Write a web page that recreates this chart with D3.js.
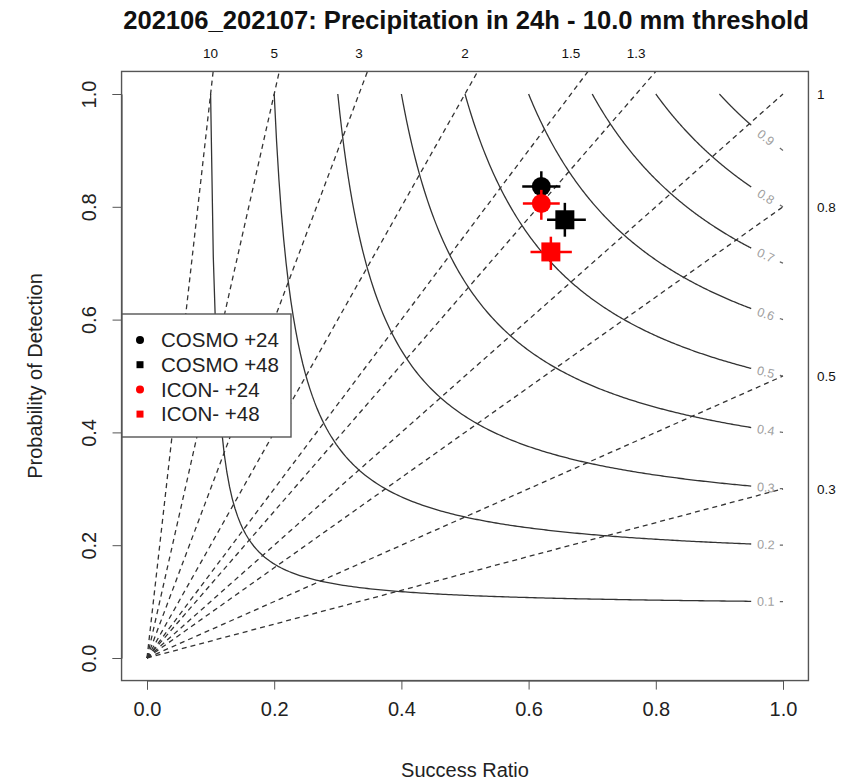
<!DOCTYPE html>
<html>
<head>
<meta charset="utf-8">
<script src="https://cdn.jsdelivr.net/npm/d3@7"></script>
<style>
  body { margin: 0; background: #fff; }
  svg { font-family: "Liberation Sans", Arial, sans-serif; }
</style>
</head>
<body>
<svg id="chart" width="850" height="782"></svg>
<script>
// ---------- data ----------
const titleText = "202106_202107: Precipitation in 24h - 10.0 mm threshold";
const xLabel = "Success Ratio";
const yLabel = "Probability of Detection";
const axisTicks = [0, 0.2, 0.4, 0.6, 0.8, 1.0];
const biasValues = [0.3, 0.5, 0.8, 1, 1.3, 1.5, 2, 3, 5, 10];
const biasLabels = ["0.3", "0.5", "0.8", "1", "1.3", "1.5", "2", "3", "5", "10"];
const csiValues = [0.1, 0.2, 0.3, 0.4, 0.5, 0.6, 0.7, 0.8, 0.9];

const seriesNames = ["COSMO +24", "COSMO +48", "ICON- +24", "ICON- +48"];
const seriesColors = ["#000000", "#000000", "#ff0000", "#ff0000"];
const seriesShapes = ["circle", "square", "circle", "square"];
const srValues  = [0.620, 0.657, 0.620, 0.635];
const srLow     = [0.590, 0.629, 0.591, 0.603];
const srHigh    = [0.650, 0.690, 0.649, 0.668];
const podValues = [0.836, 0.777, 0.806, 0.720];
const podLow    = [0.808, 0.747, 0.777, 0.688];
const podHigh   = [0.863, 0.807, 0.830, 0.747];

// ---------- layout ----------
const svg = d3.select("#chart");
const x = d3.scaleLinear().domain([0, 1]).range([147, 783]);
const y = d3.scaleLinear().domain([0, 1]).range([658, 94]);
const bx0 = x(-0.04), bx1 = x(1.04), by0 = y(1.04), by1 = y(-0.04);
const lineCol = "#333";

svg.append("defs").append("clipPath").attr("id", "plotclip")
  .append("rect").attr("x", bx0).attr("y", by0).attr("width", bx1 - bx0).attr("height", by1 - by0);

const plot = svg.append("g").attr("clip-path", "url(#plotclip)");

// bias lines
const line = d3.line().x(d => x(d[0])).y(d => y(d[1]));
plot.selectAll("path.bias").data(biasValues).join("path")
  .attr("class", "bias")
  .attr("d", b => line([[0, 0], [1, b]]))
  .attr("fill", "none").attr("stroke", lineCol).attr("stroke-width", 1.3)
  .attr("stroke-dasharray", "5,4");

// CSI contours
function podFor(c, sr) { return 1 / (1 / c - 1 / sr + 1); }
const labSR = 0.973;
csiValues.forEach(c => {
  const pts = [];
  const n = 200;
  for (let i = 0; i <= n; i++) {
    const sr = c + (0.95 - c) * i / n;
    pts.push([sr, Math.min(1, podFor(c, sr))]);
  }
  plot.append("path").attr("d", line(pts))
    .attr("fill", "none").attr("stroke", lineCol).attr("stroke-width", 1.3);
  const tail = [];
  for (let i = 0; i <= 5; i++) { const sr = 0.995 + 0.005 * i / 5; tail.push([sr, podFor(c, sr)]); }
  plot.append("path").attr("d", line(tail))
    .attr("fill", "none").attr("stroke", "#666").attr("stroke-width", 1.2);
  const p = podFor(c, labSR);
  const slope = (p / labSR) ** 2 * (y(0) - y(1)) / (x(1) - x(0));
  const ang = Math.atan(slope) * 180 / Math.PI;
  svg.append("text")
    .attr("transform", `translate(${x(labSR)},${y(p)}) rotate(${ang})`)
    .attr("text-anchor", "middle").attr("dy", "0.35em")
    .attr("font-size", 12.5).attr("fill", "#a0a0a0")
    .text(c.toFixed(1));
});

// box
svg.append("rect").attr("x", bx0).attr("y", by0).attr("width", bx1 - bx0).attr("height", by1 - by0)
  .attr("fill", "none").attr("stroke", "#555").attr("stroke-width", 1.4);

// axes
const xAxis = svg.append("g").attr("transform", `translate(0,${by1})`)
  .call(d3.axisBottom(x).tickValues(axisTicks).tickFormat(d3.format(".1f")).tickSize(9).tickPadding(12));
xAxis.select(".domain").attr("stroke", "#555");
xAxis.selectAll(".tick line").attr("stroke", "#555");
xAxis.selectAll("text").attr("font-size", 20).attr("fill", "#222").attr("font-family", "Liberation Sans, Arial, sans-serif");

const yAxis = svg.append("g").attr("transform", `translate(${bx0},0)`)
  .call(d3.axisLeft(y).tickValues(axisTicks).tickFormat(d3.format(".1f")).tickSize(9));
yAxis.select(".domain").attr("stroke", "#555");
yAxis.selectAll(".tick line").attr("stroke", "#555");
yAxis.selectAll("text").attr("font-size", 20).attr("fill", "#222")
  .attr("font-family", "Liberation Sans, Arial, sans-serif")
  .attr("text-anchor", "middle").attr("x", 0).attr("dy", "0.35em")
  .attr("transform", "translate(-33,0) rotate(-90)");

// bias labels
biasValues.forEach((b, i) => {
  if (b > 1) {
    svg.append("text").attr("x", x(1 / b)).attr("y", 58)
      .attr("text-anchor", "middle").attr("font-size", 13.5).attr("fill", "#111")
      .text(biasLabels[i]);
  } else {
    svg.append("text").attr("x", 817).attr("y", y(b)).attr("dy", "0.35em")
      .attr("text-anchor", "start").attr("font-size", 13.5).attr("fill", "#111")
      .text(biasLabels[i]);
  }
});

// titles
svg.append("text").attr("x", 466).attr("y", 29).attr("text-anchor", "middle")
  .attr("font-size", 25.6).attr("font-weight", "bold").attr("fill", "#111").text(titleText);
svg.append("text").attr("x", x(0.5)).attr("y", 777).attr("text-anchor", "middle")
  .attr("font-size", 20).attr("fill", "#222").text(xLabel);
svg.append("text").attr("transform", `translate(42,${y(0.5)}) rotate(-90)`).attr("text-anchor", "middle")
  .attr("font-size", 20).attr("fill", "#222").text(yLabel);

// points with error bars
seriesNames.forEach((name, i) => {
  const g = svg.append("g");
  const col = seriesColors[i];
  g.append("line").attr("x1", x(srLow[i])).attr("x2", x(srHigh[i]))
    .attr("y1", y(podValues[i])).attr("y2", y(podValues[i]))
    .attr("stroke", col).attr("stroke-width", 2.5);
  g.append("line").attr("x1", x(srValues[i])).attr("x2", x(srValues[i]))
    .attr("y1", y(podLow[i])).attr("y2", y(podHigh[i]))
    .attr("stroke", col).attr("stroke-width", 2.5);
  if (seriesShapes[i] === "circle") {
    g.append("circle").attr("cx", x(srValues[i])).attr("cy", y(podValues[i])).attr("r", 9.5).attr("fill", col);
  } else {
    g.append("rect").attr("x", x(srValues[i]) - 9.5).attr("y", y(podValues[i]) - 9.5)
      .attr("width", 19).attr("height", 19).attr("fill", col);
  }
});

// legend
const lg = svg.append("g");
lg.append("rect").attr("x", 122).attr("y", 314).attr("width", 169).attr("height", 123)
  .attr("fill", "#fff").attr("stroke", "#555").attr("stroke-width", 1.4);
seriesNames.forEach((name, i) => {
  const cy = 340 + i * 24.7;
  const col = seriesColors[i];
  if (seriesShapes[i] === "circle") {
    lg.append("circle").attr("cx", 140).attr("cy", cy).attr("r", 4).attr("fill", col);
  } else {
    lg.append("rect").attr("x", 136.5).attr("y", cy - 3.5).attr("width", 7).attr("height", 7).attr("fill", col);
  }
  lg.append("text").attr("x", 161).attr("y", cy).attr("dy", "0.35em")
    .attr("font-size", 20.5).attr("fill", "#222").text(name);
});
</script>
</body>
</html>
